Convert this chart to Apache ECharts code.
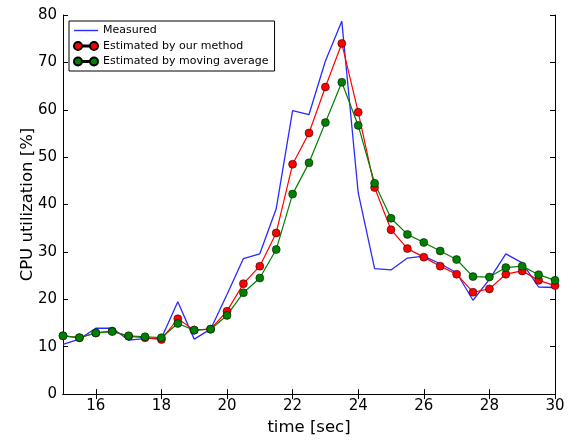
<!DOCTYPE html>
<html>
<head>
<meta charset="utf-8">
<script src="https://cdn.jsdelivr.net/npm/echarts@6/dist/echarts.min.js"></script>
<style>html,body{margin:0;padding:0;background:#fff}#c{width:571px;height:441px}</style>
</head>
<body>
<div id="c"></div>
<script>
var timeSec = [15, 15.5, 16, 16.5, 17, 17.5, 18, 18.5, 19, 19.5, 20, 20.5, 21, 21.5, 22, 22.5, 23, 23.5, 24, 24.5, 25, 25.5, 26, 26.5, 27, 27.5, 28, 28.5, 29, 29.5, 30];
var measured = [10.5, 11.6, 13.9, 13.9, 11.4, 11.7, 11.8, 19.5, 11.6, 13.7, 21.0, 28.6, 29.6, 39.1, 59.8, 59.0, 70.3, 78.7, 42.5, 26.5, 26.2, 28.7, 29.1, 27.5, 25.6, 19.8, 24.2, 29.6, 27.7, 22.6, 22.5];
var ourMethod = [12.3, 11.9, 12.9, 13.3, 12.2, 11.9, 11.5, 15.9, 13.5, 13.7, 17.5, 23.3, 27.0, 34.0, 48.5, 55.1, 64.8, 74.0, 59.5, 43.6, 34.7, 30.7, 28.9, 27.0, 25.3, 21.5, 22.2, 25.3, 26.0, 24.0, 22.9];
var movingAvg = [12.3, 11.9, 12.9, 13.2, 12.3, 12.1, 11.9, 14.9, 13.5, 13.7, 16.6, 21.4, 24.5, 30.5, 42.2, 48.8, 57.3, 65.8, 56.7, 44.5, 37.1, 33.7, 32.0, 30.2, 28.4, 24.8, 24.7, 26.7, 27.0, 25.2, 24.0];
var xTicks = [16, 18, 20, 22, 24, 26, 28, 30];
var yTicks = [0, 10, 20, 30, 40, 50, 60, 70, 80];
var seriesNames = ['Measured', 'Estimated by our method', 'Estimated by moving average'];

function pairs(vals) { return timeSec.map(function (t, i) { return [t, vals[i]]; }); }

var FONT = 'DejaVu Sans';
var chart = echarts.init(document.getElementById('c'), null, {renderer: 'canvas'});
var axLine = {show: true, lineStyle: {color: '#000', width: 1}};
var tickIn = {show: true, inside: true, length: 5, lineStyle: {color: '#000', width: 1}};
var lineIcon = 'path://M0,0L24,0L24,1.4L0,1.4Z';
var dotsIcon = 'path://M0,4A4,4,0,1,1,8,4A4,4,0,1,1,0,4Z M16,4A4,4,0,1,1,24,4A4,4,0,1,1,16,4Z M8,3.5L16,3.5L16,4.5L8,4.5Z';

chart.setOption({
  animation: false,
  backgroundColor: '#fff',
  textStyle: {fontFamily: FONT},
  grid: {left: 63, right: 16, top: 15, bottom: 44},
  legend: {
    left: 69, top: 21, orient: 'vertical',
    data: [
      {name: seriesNames[0], icon: lineIcon},
      {name: seriesNames[1], icon: dotsIcon},
      {name: seriesNames[2], icon: dotsIcon}
    ],
    borderColor: '#000', borderWidth: 1,
    padding: [4, 6, 4, 4], itemGap: 4.5, itemWidth: 24, itemHeight: 8,
    textStyle: {fontFamily: FONT, fontSize: 11, color: '#000'}
  },
  xAxis: [{
    type: 'value', min: 15, max: 30, position: 'bottom',
    name: 'time [sec]', nameLocation: 'middle', nameGap: 21,
    nameTextStyle: {fontFamily: FONT, fontSize: 16.5, color: '#000'},
    axisLine: axLine,
    axisTick: Object.assign({customValues: xTicks}, tickIn),
    axisLabel: {customValues: xTicks, fontFamily: FONT, fontSize: 15, color: '#000', margin: 5},
    splitLine: {show: false}
  }, {
    type: 'value', min: 15, max: 30, position: 'top',
    axisLine: axLine,
    axisTick: Object.assign({customValues: xTicks}, tickIn),
    axisLabel: {show: false},
    splitLine: {show: false}
  }],
  yAxis: [{
    type: 'value', min: 0, max: 80, interval: 10, position: 'left',
    name: 'CPU utilization [%]', nameLocation: 'middle', nameGap: 27, nameRotate: 90,
    nameMoveOverlap: false,
    nameTextStyle: {fontFamily: FONT, fontSize: 16.5, color: '#000'},
    axisLine: axLine,
    axisTick: tickIn,
    axisLabel: {fontFamily: FONT, fontSize: 15, color: '#000', margin: 6},
    splitLine: {show: false}
  }, {
    type: 'value', min: 0, max: 80, interval: 10, position: 'right',
    axisLine: axLine,
    axisTick: tickIn,
    axisLabel: {show: false},
    splitLine: {show: false}
  }],
  series: [{
    name: seriesNames[0], type: 'line', data: pairs(measured),
    showSymbol: false, symbol: 'none',
    lineStyle: {color: '#2a2aff', width: 1.3},
    itemStyle: {color: '#2a2aff'}
  }, {
    name: seriesNames[1], type: 'line', data: pairs(ourMethod),
    symbol: 'circle', symbolSize: 8,
    lineStyle: {color: '#ff0000', width: 1.2},
    itemStyle: {color: '#ff0000', borderColor: '#000', borderWidth: 0.5}
  }, {
    name: seriesNames[2], type: 'line', data: pairs(movingAvg),
    symbol: 'circle', symbolSize: 8,
    lineStyle: {color: '#008000', width: 1.2},
    itemStyle: {color: '#008000', borderColor: '#000', borderWidth: 0.5}
  }]
});
</script>
</body>
</html>
